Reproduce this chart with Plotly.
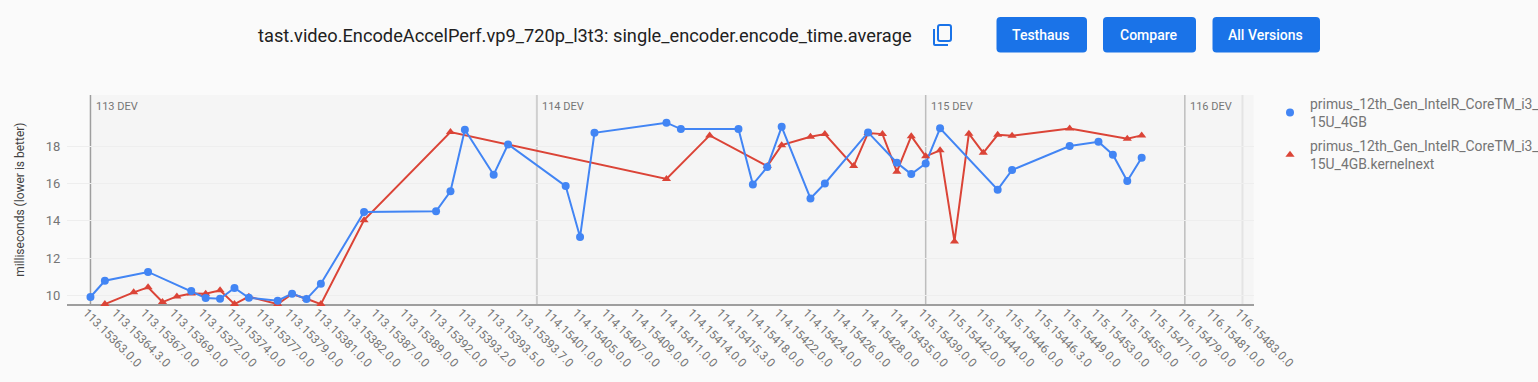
import plotly.graph_objects as go

W, H = 1538, 382

title_text = "tast.video.EncodeAccelPerf.vp9_720p_l3t3: single_encoder.encode_time.average"
y_title = "milliseconds (lower is better)"
button_labels = ["Testhaus", "Compare", "All Versions"]

tick_labels = [
    "113.15363.0.0", "113.15364.3.0", "113.15367.0.0", "113.15369.0.0", "113.15372.0.0",
    "113.15374.0.0", "113.15377.0.0", "113.15379.0.0", "113.15381.0.0", "113.15382.0.0",
    "113.15387.0.0", "113.15389.0.0", "113.15392.0.0", "113.15393.2.0", "113.15393.5.0",
    "113.15393.7.0", "114.15401.0.0", "114.15405.0.0", "114.15407.0.0", "114.15409.0.0",
    "114.15411.0.0", "114.15414.0.0", "114.15415.3.0", "114.15418.0.0", "114.15422.0.0",
    "114.15424.0.0", "114.15426.0.0", "114.15428.0.0", "114.15435.0.0", "115.15439.0.0",
    "115.15442.0.0", "115.15444.0.0", "115.15446.0.0", "115.15446.3.0", "115.15449.0.0",
    "115.15453.0.0", "115.15455.0.0", "115.15471.0.0", "116.15479.0.0", "116.15481.0.0",
    "116.15483.0.0",
]

release_names = ["113 DEV", "114 DEV", "115 DEV", "116 DEV"]
release_pos = [0, 31, 58, 76]
release_colors = ["#9e9e9e", "#cfcfcf", "#bdbdbd", "#b0b0b0"]
release_widths = [1.5, 2, 1.5, 1.2]

blue_name = "primus_12th_Gen_IntelR_CoreTM_i3_<br>15U_4GB"
blue_x = [0, 1, 4, 7, 8, 9, 10, 11, 13, 14, 15, 16, 19, 24, 25, 26, 28, 29,
          33, 34, 35, 40, 41, 45, 46, 47, 48, 50, 51, 54, 56, 57, 58, 59, 63, 64,
          68, 70, 71, 72, 73]
blue_y = [9.93, 10.80, 11.27, 10.25, 9.88, 9.84, 10.41, 9.89, 9.73, 10.11, 9.82, 10.64,
          14.47, 14.51, 15.58, 18.87, 16.47, 18.09,
          15.86, 13.14, 18.71, 19.25, 18.91, 18.91, 15.95, 16.88, 19.03, 15.20, 16.00,
          18.73, 17.11, 16.50, 17.07, 18.95, 15.67, 16.72,
          18.00, 18.23, 17.54, 16.13, 17.38]

red_name = "primus_12th_Gen_IntelR_CoreTM_i3_<br>15U_4GB.kernelnext"
red_x = [1, 3, 4, 5, 6, 7, 8, 9, 10, 11, 13, 14, 15, 16, 19, 25,
         40, 43, 47, 48, 50, 51, 53, 54, 55, 56, 57, 58, 59, 60, 61, 62, 63, 64,
         68, 72, 73]
red_y = [9.55, 10.18, 10.45, 9.66, 9.96, 10.12, 10.11, 10.29, 9.55, 9.95, 9.55, 10.09, 9.84, 9.55,
         14.04, 18.75,
         16.24, 18.57, 16.93, 18.05, 18.50, 18.64, 16.93, 18.70, 18.64, 16.63, 18.53, 17.45,
         17.77, 12.90, 18.66, 17.64, 18.60, 18.55,
         18.94, 18.39, 18.57]

BLUE, RED = "#4285f4", "#db4437"
BG, PLOT_BG, TXT = "#fafafa", "#f5f5f5", "#757575"
BTN = "#1a73e8"


def px(v):
    return v / W


def py(v):
    return 1 - v / H


def rounded(x0, y0, x1, y1, r):
    a, b, c, d = px(x0), px(x1), py(y0), py(y1)
    rx, ry = r / W, r / H
    return (f"M{a+rx},{c} L{b-rx},{c} Q{b},{c} {b},{c-ry} L{b},{d+ry} Q{b},{d} {b-rx},{d} "
            f"L{a+rx},{d} Q{a},{d} {a},{d+ry} L{a},{c-ry} Q{a},{c} {a+rx},{c} Z")


fig = go.Figure()
for x, y, c in [(red_x, red_y, RED), (blue_x, blue_y, BLUE)]:
    fig.add_trace(go.Scatter(x=x, y=y, mode="lines", line=dict(color=c, width=2),
                             showlegend=False, hoverinfo="skip", cliponaxis=False))
fig.add_trace(go.Scatter(x=red_x, y=red_y, mode="markers", name=red_name, legendrank=2, legendgroup="r",
                         marker=dict(color=RED, symbol="triangle-up", size=8), cliponaxis=False))
fig.add_trace(go.Scatter(x=blue_x, y=blue_y, mode="markers", name=blue_name, legendrank=1, legendgroup="b",
                         marker=dict(color=BLUE, symbol="circle", size=8), cliponaxis=False))

shapes = [dict(type="rect", xref="x", yref="y domain", x0=0, x1=80.78, y0=0, y1=1,
               fillcolor=PLOT_BG, line_width=0, layer="below")]
for p, c, w in zip(release_pos + [80], release_colors + ["#e4e4e4"], release_widths + [2]):
    shapes.append(dict(type="line", xref="x", yref="y domain", x0=p, x1=p, y0=0, y1=1,
                       line=dict(color=c, width=w), layer="below"))

annotations = []
for name, p in zip(release_names, release_pos):
    annotations.append(dict(text=name, x=p, xref="x", y=py(106), yref="paper", xanchor="left",
                            xshift=3.5, yanchor="middle", showarrow=False,
                            font=dict(size=11, color=TXT, family="Roboto")))
annotations.append(dict(text=title_text, x=px(256), y=py(35), xref="paper", yref="paper",
                        xanchor="left", yanchor="middle", showarrow=False,
                        font=dict(size=18.24, color="#212121", family="Roboto")))

button_boxes = [(996.5, 1087), (1103, 1196), (1212.5, 1320)]
for label, (a, b) in zip(button_labels, button_boxes):
    shapes.append(dict(type="path", xref="paper", yref="paper", path=rounded(a, 17, b, 52.5, 4),
                       fillcolor=BTN, line_width=0))
    annotations.append(dict(text=label, x=px((a + b) / 2 - 1), y=py(35), xref="paper", yref="paper",
                            xanchor="center", yanchor="middle", showarrow=False,
                            font=dict(size=14, color="white", family="Roboto", weight=500)))

# copy icon
shapes.append(dict(type="path", xref="paper", yref="paper", path=rounded(938, 25, 951, 41, 2),
                   line=dict(color=BTN, width=2), fillcolor="rgba(0,0,0,0)"))
shapes.append(dict(type="path", xref="paper", yref="paper",
                   path=f"M{px(934)},{py(29)} L{px(934)},{py(44)} Q{px(934)},{py(45)} {px(935)},{py(45)} L{px(948)},{py(45)}",
                   line=dict(color=BTN, width=2)))

fig.update_layout(
    width=W, height=H, autosize=False,
    margin=dict(l=0, r=0, t=0, b=0, autoexpand=False),
    paper_bgcolor=BG, plot_bgcolor=BG,
    font=dict(family="Roboto", color=TXT, size=13),
    shapes=shapes, annotations=annotations,
    legend=dict(x=px(1270), y=py(88), xanchor="left", yanchor="top", bgcolor="rgba(0,0,0,0)",
                tracegroupgap=3, font=dict(size=13.9, color=TXT, family="Roboto"), itemclick=False),
    xaxis=dict(domain=[px(67), px(1253.7)], range=[-1.63, 80.78], showgrid=False, zeroline=False,
               showline=True, linecolor="#9e9e9e", linewidth=1.5, layer="below traces",
               tickmode="array", tickvals=list(range(0, 81, 2)), ticktext=tick_labels,
               tickangle=45, ticks="", tickfont=dict(size=12, color=TXT, family="Roboto"),
               ticklabelshift=-4, ticklabelstandoff=-5, automargin=False),
    yaxis=dict(domain=[py(304.3), py(95)], range=[9.54, 20.73], showgrid=True, gridcolor="#eeeeee",
               gridwidth=1, zeroline=False, showline=False, tickmode="array",
               tickvals=[10, 12, 14, 16, 18], ticks="outside", ticklen=3, tickcolor="rgba(0,0,0,0)",
               tickfont=dict(size=13, color=TXT, family="Roboto"), automargin=False,
               title=dict(text=y_title, font=dict(size=12, color="#424242", family="Roboto"), standoff=18)),
)

fig.write_html("out.html", config=dict(displayModeBar=False),
               post_script="document.body.style.margin='0';document.body.style.background='#fafafa';document.body.style.overflow='hidden';")
